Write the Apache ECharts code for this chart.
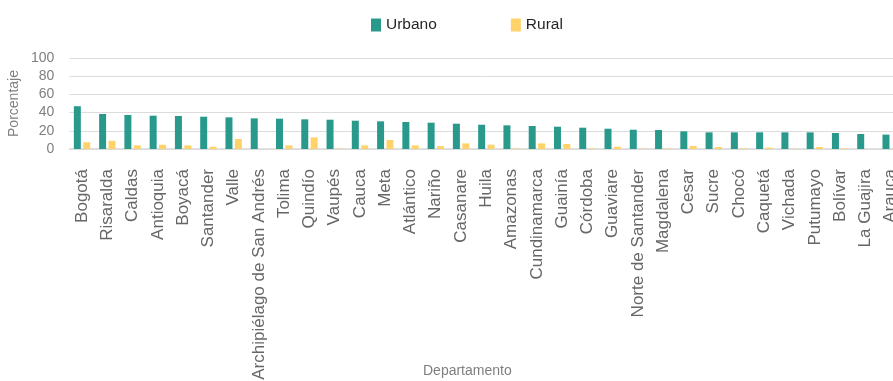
<!DOCTYPE html>
<html>
<head>
<meta charset="utf-8">
<script src="https://cdn.jsdelivr.net/npm/echarts@6/dist/echarts.min.js"></script>
<style>
html,body{margin:0;padding:0;background:#fff;}
#chart{width:893px;height:381px;}
</style>
</head>
<body>
<div id="chart"></div>
<script>
const categories = ["Bogotá","Risaralda","Caldas","Antioquia","Boyacá","Santander","Valle","Archipiélago de San Andrés","Tolima","Quindío","Vaupés","Cauca","Meta","Atlántico","Nariño","Casanare","Huila","Amazonas","Cundinamarca","Guainía","Córdoba","Guaviare","Norte de Santander","Magdalena","Cesar","Sucre","Chocó","Caquetá","Vichada","Putumayo","Bolívar","La Guajira","Arauca"];
const urbano = [47,38.5,37.4,36.6,36.3,35.5,34.8,33.7,33.3,32.6,32.2,31.1,30.4,29.7,28.9,27.8,26.7,26,25.3,24.5,23.4,22.3,21.2,20.9,19.4,18.3,18.3,18.3,18.3,18.3,17.6,16.5,15.8];
const rural = [7.4,9,4,4.7,4,2.5,11,0,4,12.8,0.5,4,9.9,4,3.3,6.2,4.7,0.7,6.2,5.5,0.7,2.5,0.5,0.5,3.3,2.2,0.7,1.5,0.3,2.2,0.7,0,0.5];
const yTicks = [0,20,40,60,80,100];
const seriesNames = ["Urbano","Rural"];

const font = "'Liberation Sans', Arial, sans-serif";
const chart = echarts.init(document.getElementById('chart'), null, {renderer:'canvas'});
chart.setOption({
  animation:false,
  textStyle:{fontFamily:font},
  legend:{
    left:366, top:12,
    itemWidth:10, itemHeight:13, itemGap:74,
    icon:'rect',
    textStyle:{fontSize:15.5, color:'#262626', fontFamily:font},
    data:seriesNames
  },
  grid:{left:69.4, right:-10.3, top:58, bottom:232, containLabel:false, outerBoundsMode:'none'},
  xAxis:{
    type:'category',
    data:categories,
    axisTick:{show:false},
    axisLine:{lineStyle:{color:'#d9d9d9', width:1.5}},
    axisLabel:{rotate:90, interval:0, fontSize:17, color:'#666666', margin:20, fontFamily:font},
    name:'Departamento',
    nameLocation:'middle',
    nameGap:215,
    nameMoveOverlap:false,
    nameTextStyle:{fontSize:14, color:'#7f7f7f', padding:[0,38,0,0], fontFamily:font}
  },
  yAxis:{
    type:'value',
    min:yTicks[0], max:yTicks[yTicks.length-1], interval:20,
    axisLine:{show:false}, axisTick:{show:false},
    splitLine:{lineStyle:{color:'#dcdcdc', width:1}},
    axisLabel:{fontSize:14, color:'#7f7f7f', margin:15, fontFamily:font},
    name:'Porcentaje',
    nameLocation:'middle',
    nameGap:48,
    nameMoveOverlap:false,
    nameTextStyle:{fontSize:14, color:'#7f7f7f', fontFamily:font}
  },
  series:[
    {name:seriesNames[0], type:'bar', data:urbano, barWidth:7, barGap:'34%', itemStyle:{color:'#29998c'}},
    {name:seriesNames[1], type:'bar', data:rural, barWidth:7, barGap:'34%', itemStyle:{color:'#ffd36a'}}
  ]
});
</script>
</body>
</html>
